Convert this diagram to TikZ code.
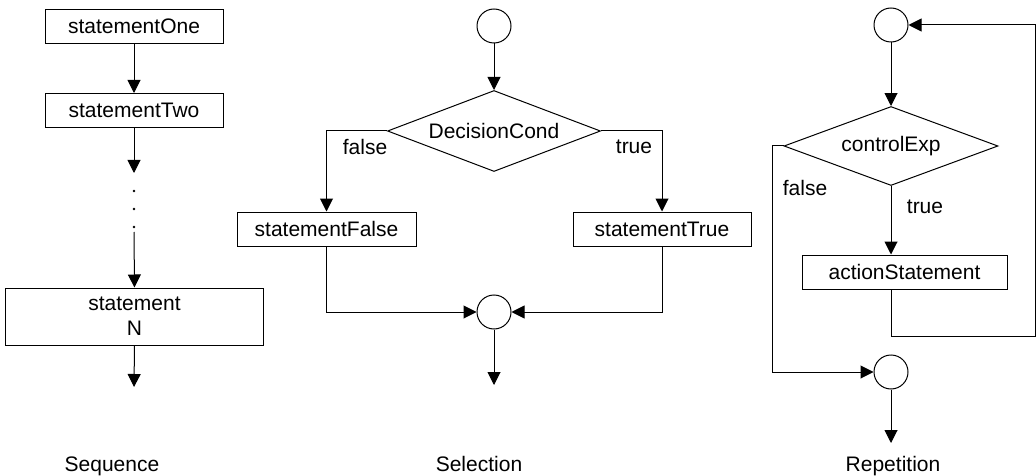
\documentclass[tikz,border=0pt]{standalone}
\usepackage{fontspec}
\setmainfont{Liberation Sans}
\usetikzlibrary{arrows.meta,shapes.geometric}
\begin{document}
\begin{tikzpicture}[x=1pt,y=-1pt,
  every node/.style={font=\fontsize{21}{25}\selectfont},
  line/.style={line width=1pt},
  flow/.style={line, -{Triangle[length=13pt,width=13pt]}},
  stmt/.style={draw, line width=1pt, rectangle, inner sep=0pt, minimum height=34pt},
  junction/.style={draw, line width=1pt, circle, inner sep=0pt, minimum size=34pt},
  decision/.style={draw, line width=1pt, diamond, inner sep=0pt, aspect=2.65},
  dotmark/.style={circle, fill, inner sep=0pt, minimum size=2.6pt},
  caption/.style={anchor=base, inner sep=0pt}]
\useasboundingbox (0,0) rectangle (1036,476);

% ---------------- Sequence ----------------
\node[stmt, minimum width=178pt] (s1) at (134,26.5) {statementOne};
\node[stmt, minimum width=178pt] (s2) at (134,110.5) {statementTwo};
\coordinate (s2end) at (134,173);
\node[dotmark] (d1) at (134,191) {};
\node[dotmark] (d2) at (134,209) {};
\node[dotmark] (d3) at (134,227) {};
\node[stmt, minimum width=258pt, minimum height=57pt, align=center] (sN) at (134.5,316.5) {statement\\N};
\coordinate (sNend) at (134,387);
\draw[flow] (s1) -- (s2);
\draw[flow] (s2) -- (s2end);
\draw[flow] (134,232) -- (sN.north);
\draw[flow] (sN.south) -- (sNend);
\node[caption] (seq) at (112,471) {Sequence};

% ---------------- Selection ----------------
\node[junction] (c1) at (494,26) {};
\node[decision, minimum width=213pt, minimum height=81pt] (dc) at (494,131) {DecisionCond};
\node[stmt, minimum width=179pt] (sF) at (326.5,229) {statementFalse};
\node[stmt, minimum width=178pt] (sT) at (662,229) {statementTrue};
\node[junction] (c2) at (494,312) {};
\coordinate (c2end) at (494,385);
\draw[flow] (c1) -- (dc);
\draw[flow] (dc.west) -| (sF.north);
\draw[flow] (dc.east) -| (sT.north);
\draw[flow] (sF.south) |- (c2.west);
\draw[flow] (sT.south) |- (c2.east);
\draw[flow] (c2) -- (c2end);
\node (lf1) at (365,147) {false};
\node (lt1) at (634,147) {true};
\node[caption] (sel) at (479,471) {Selection};

% ---------------- Repetition ----------------
\node[junction] (c3) at (891,25) {};
\node[decision, minimum width=214pt, minimum height=79pt] (ce) at (891,146) {controlExp};
\node[stmt, minimum width=205pt] (act) at (904.5,272) {actionStatement};
\node[junction] (c4) at (891,372) {};
\coordinate (loopR) at (1035,336);
\coordinate (exitL) at (772,146);
\coordinate (c4end) at (891,443);
\draw[flow] (c3) -- (ce);
\draw[flow] (ce.south) -- (ce.south |- act.north);
\draw[flow] (act.south -| ce.south) |- (loopR) |- (c3.east);
\draw[flow] (ce.west) -- (exitL) |- (c4.west);
\draw[flow] (c4) -- (c4end);
\node (lf2) at (805,188) {false};
\node (lt2) at (925,207) {true};
\node[caption] (rep) at (893,471) {Repetition};
\end{tikzpicture}
\end{document}
